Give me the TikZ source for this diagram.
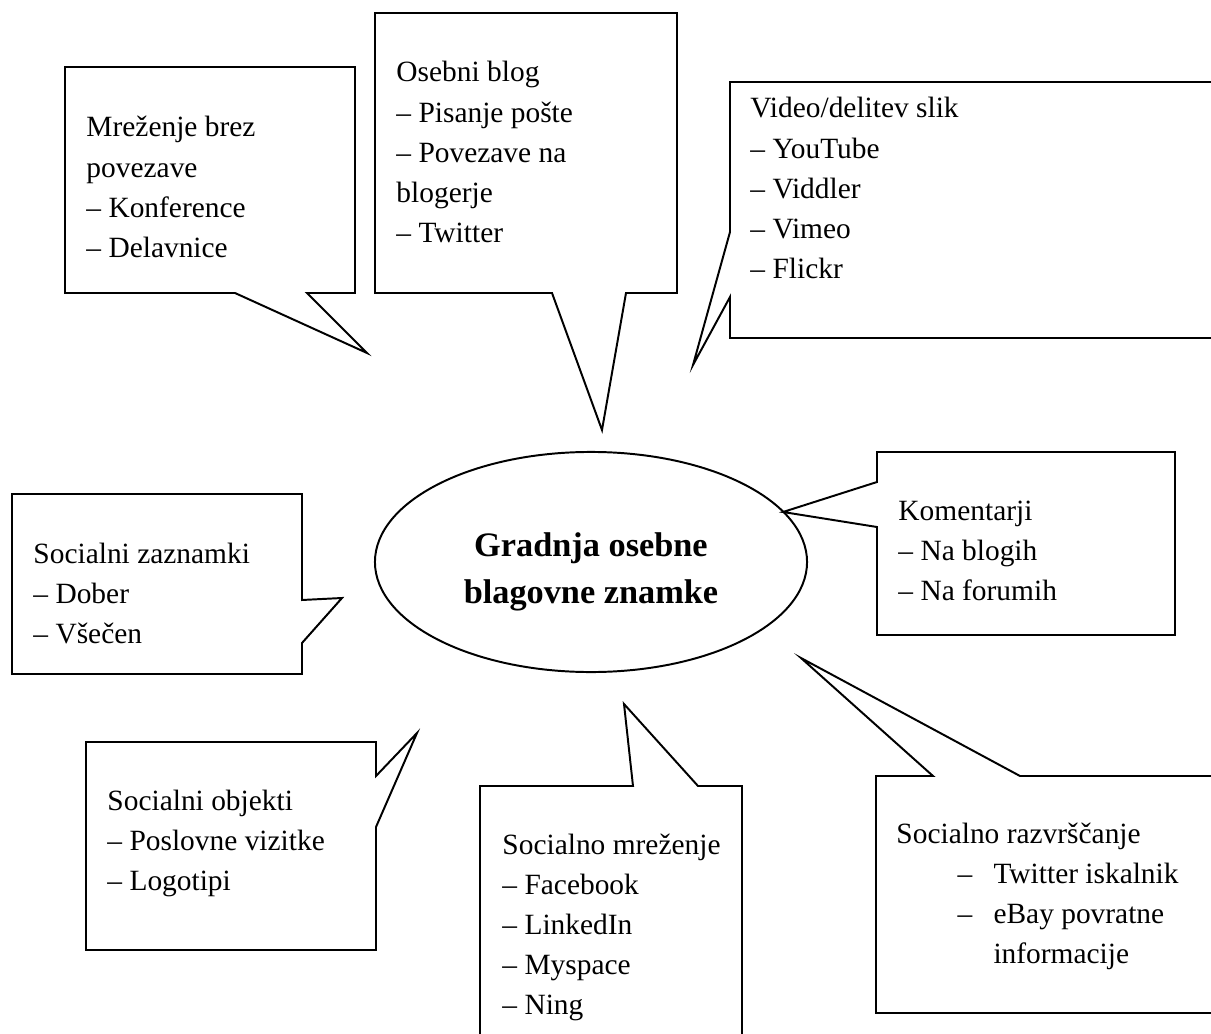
\documentclass[tikz,border=0pt]{standalone}
\usepackage{fontspec}
\setmainfont{Liberation Serif}
\usetikzlibrary{shapes.geometric}

\begin{document}
\begin{tikzpicture}[
  x=0.408pt,y=-0.408pt,
  bubble/.style={draw,line width=0.8pt,fill=white,line join=miter},
  hub/.style={draw,line width=0.8pt,ellipse,inner sep=0pt,minimum width=176.3pt,minimum height=89.8pt},
  hubtext/.style={align=center,inner sep=0pt,font=\fontsize{14}{19}\selectfont\bfseries},
  blurb/.style={anchor=base west,inner sep=0pt,text width=150pt,align=flush left,font=\fontsize{12}{16.4}\selectfont}
]
  \useasboundingbox (0,0) rectangle (1211,1034);
  \clip (0,0) rectangle (1211,1034);

  % centre
  \node[hub] (brand) at (591,562) {};
  \node[hubtext] (brandtext) at (591,572) {Gradnja osebne\\blagovne znamke};

  % callouts round the centre
  \draw[bubble] (65,67) -- (355,67) -- (355,293) -- (307,293) -- (367,353) -- (235,293) -- (65,293) -- cycle;
  \node[blurb] (offline) at (86,137) {Mreženje brez\\povezave\\– Konference\\– Delavnice};

  \draw[bubble] (375,13) -- (677,13) -- (677,293) -- (626,293) -- (602,430) -- (552,293) -- (375,293) -- cycle;
  \node[blurb] (blog) at (396,82) {Osebni blog\\– Pisanje pošte\\– Povezave na\\blogerje\\– Twitter};

  \draw[bubble] (730,82) -- (1230,82) -- (1230,338) -- (730,338) -- (730,297) -- (693,365) -- (730,232) -- cycle;
  \node[blurb] (video) at (750,118) {Video/delitev slik\\– YouTube\\– Viddler\\– Vimeo\\– Flickr};

  \draw[bubble] (877,452) -- (1175,452) -- (1175,635) -- (877,635) -- (877,527) -- (783,512) -- (877,482) -- cycle;
  \node[blurb] (comments) at (898,520) {Komentarji\\– Na blogih\\– Na forumih};

  \draw[bubble] (12,494) -- (302,494) -- (302,600) -- (342,598) -- (302,643) -- (302,674) -- (12,674) -- cycle;
  \node[blurb] (bookmarks) at (33,563) {Socialni zaznamki\\– Dober\\– Všečen};

  \draw[bubble] (86,742) -- (376,742) -- (376,776) -- (417,733) -- (376,827) -- (376,950) -- (86,950) -- cycle;
  \node[blurb] (objects) at (107,810) {Socialni objekti\\– Poslovne vizitke\\– Logotipi};

  \draw[bubble] (480,786) -- (633,786) -- (624,704) -- (698,786) -- (742,786) -- (742,1050) -- (480,1050) -- cycle;
  \node[blurb] (network) at (502,854) {Socialno mreženje\\– Facebook\\– LinkedIn\\– Myspace\\– Ning};

  \draw[bubble] (876,776) -- (933,776) -- (801,658) -- (1020,776) -- (1230,776) -- (1230,1013) -- (876,1013) -- cycle;
  \node[blurb] (ranking) at (896,843) {Socialno razvrščanje\\
    \hspace*{24.9pt}\makebox[14.7pt][l]{–}Twitter iskalnik\\
    \hspace*{24.9pt}\makebox[14.7pt][l]{–}eBay povratne\\
    \hspace*{39.6pt}informacije};
\end{tikzpicture}
\end{document}
